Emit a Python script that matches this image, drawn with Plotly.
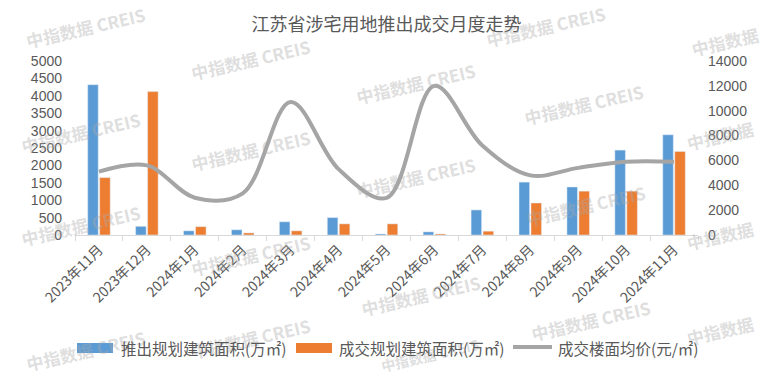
import plotly.graph_objects as go

months = ["2023年11月", "2023年12月", "2024年1月", "2024年2月", "2024年3月", "2024年4月",
          "2024年5月", "2024年6月", "2024年7月", "2024年8月", "2024年9月", "2024年10月", "2024年11月"]
supply_area = [4320, 250, 120, 150, 380, 500, 30, 90, 720, 1520, 1380, 2440, 2880]
deal_area = [1650, 4120, 240, 60, 120, 320, 320, 30, 110, 920, 1260, 1260, 2400]
avg_price = [5100, 5600, 3000, 3350, 10700, 5300, 2980, 12000, 7200, 4800, 5400, 5900, 5900]
series_names = ["推出规划建筑面积(万㎡)", "成交规划建筑面积(万㎡)", "成交楼面均价(元/㎡)"]
colors = ["#5B9BD5", "#ED7D31", "#A5A5A5"]

W, H = 773, 378
L, R, T, B = 75, 75, 61, 143
PW, PH = W - L - R, H - T - B

FONT = "Noto Sans CJK SC, Noto Sans, sans-serif"
NUM_FONT = "Liberation Sans, Arial, sans-serif"
GREY_TXT = "#595959"


def px_x(px):
    return (px - L) / PW


def px_y(py):
    return (H - B - py) / PH


fig = go.Figure()
fig.add_trace(go.Bar(x=months, y=supply_area, name=series_names[0], marker_color=colors[0]))
fig.add_trace(go.Bar(x=months, y=deal_area, name=series_names[1], marker_color=colors[1]))
fig.add_trace(go.Scatter(x=months, y=avg_price, name=series_names[2], yaxis="y2", mode="lines",
                         line=dict(color=colors[2], width=4, shape="spline", smoothing=1.0)))

annotations = []
shapes = []

# watermark positions (pixel centres), text kind, size
wm = [(85, 28, 1, 17), (250, 60, 1, 17), (545, 26, 1, 17), (725, 42, 0, 17), (80, 132, 1, 17),
      (250, 150, 1, 17), (415, 83, 1, 17), (583, 104, 1, 17), (720, 135, 0, 17), (80, 225, 1, 17),
      (415, 177, 1, 17), (585, 205, 1, 17), (720, 235, 0, 17), (250, 255, 1, 17), (420, 295, 1, 17),
      (590, 320, 1, 17), (720, 330, 0, 17), (85, 350, 1, 17), (250, 338, 1, 17), (430, 355, 1, 14)]
for px, py, full, sz in wm:
    annotations.append(dict(
        text="中指数据 CREIS" if full else "中指数据",
        x=px_x(px), y=px_y(py), xref="paper", yref="paper", xanchor="center", yanchor="middle",
        showarrow=False, textangle=-13,
        font=dict(family="Noto Sans CJK SC", size=sz, color="rgba(170,170,170,0.40)", weight="bold"),
    ))

# manual legend (swatch pixel boxes, text start)
leg_y = 348
legend_items = [
    ("rect", 77, 113, 119),
    ("rect", 296, 332, 337),
    ("line", 513, 552, 556),
]
for (kind, x0, x1, tx), name, col in zip(legend_items, series_names, colors):
    if kind == "rect":
        shapes.append(dict(type="rect", xref="paper", yref="paper", x0=px_x(x0), x1=px_x(x1),
                           y0=px_y(leg_y + 5), y1=px_y(leg_y - 5), fillcolor=col, line=dict(width=0)))
    else:
        shapes.append(dict(type="line", xref="paper", yref="paper", x0=px_x(x0), x1=px_x(x1),
                           y0=px_y(leg_y - 1), y1=px_y(leg_y - 1), line=dict(color=col, width=4)))
    annotations.append(dict(text=name, x=px_x(tx), y=px_y(leg_y), xref="paper", yref="paper",
                            xanchor="left", yanchor="middle", showarrow=False,
                            font=dict(family=FONT, size=15.5, color=GREY_TXT)))

fig.update_layout(
    width=W, height=H,
    margin=dict(l=L, r=R, t=T, b=B, autoexpand=False),
    paper_bgcolor="white", plot_bgcolor="white",
    title=dict(text="江苏省涉宅用地推出成交月度走势", x=0.5, xanchor="center", xref="container",
               y=1 - 25 / H, yanchor="middle", yref="container",
               font=dict(family=FONT, size=18, color=GREY_TXT)),
    font=dict(family=FONT, color=GREY_TXT, size=14),
    barmode="group", bargap=0.5, bargroupgap=0.12,
    showlegend=False,
    xaxis=dict(type="category", tickangle=-45, showgrid=False, showline=True, linecolor="#D9D9D9",
               linewidth=1, ticks="outside", tickson="boundaries", ticklen=5, tickcolor="#D9D9D9",
               tickfont=dict(size=14, color=GREY_TXT), automargin=False),
    yaxis=dict(range=[0, 5000], dtick=500, showgrid=False, showline=False, zeroline=False,
               tickfont=dict(family=NUM_FONT, size=14, color=GREY_TXT), automargin=False,
               ticklabelstandoff=12),
    yaxis2=dict(range=[0, 14000], dtick=2000, overlaying="y", side="right", showgrid=False,
                showline=False, zeroline=False, tickformat="d", ticklabelstandoff=9,
                tickfont=dict(family=NUM_FONT, size=14, color=GREY_TXT), automargin=False),
    annotations=annotations,
    shapes=shapes,
)

fig.write_html("out.html", config={"displayModeBar": False},
               post_script="document.body.style.margin='0';")
